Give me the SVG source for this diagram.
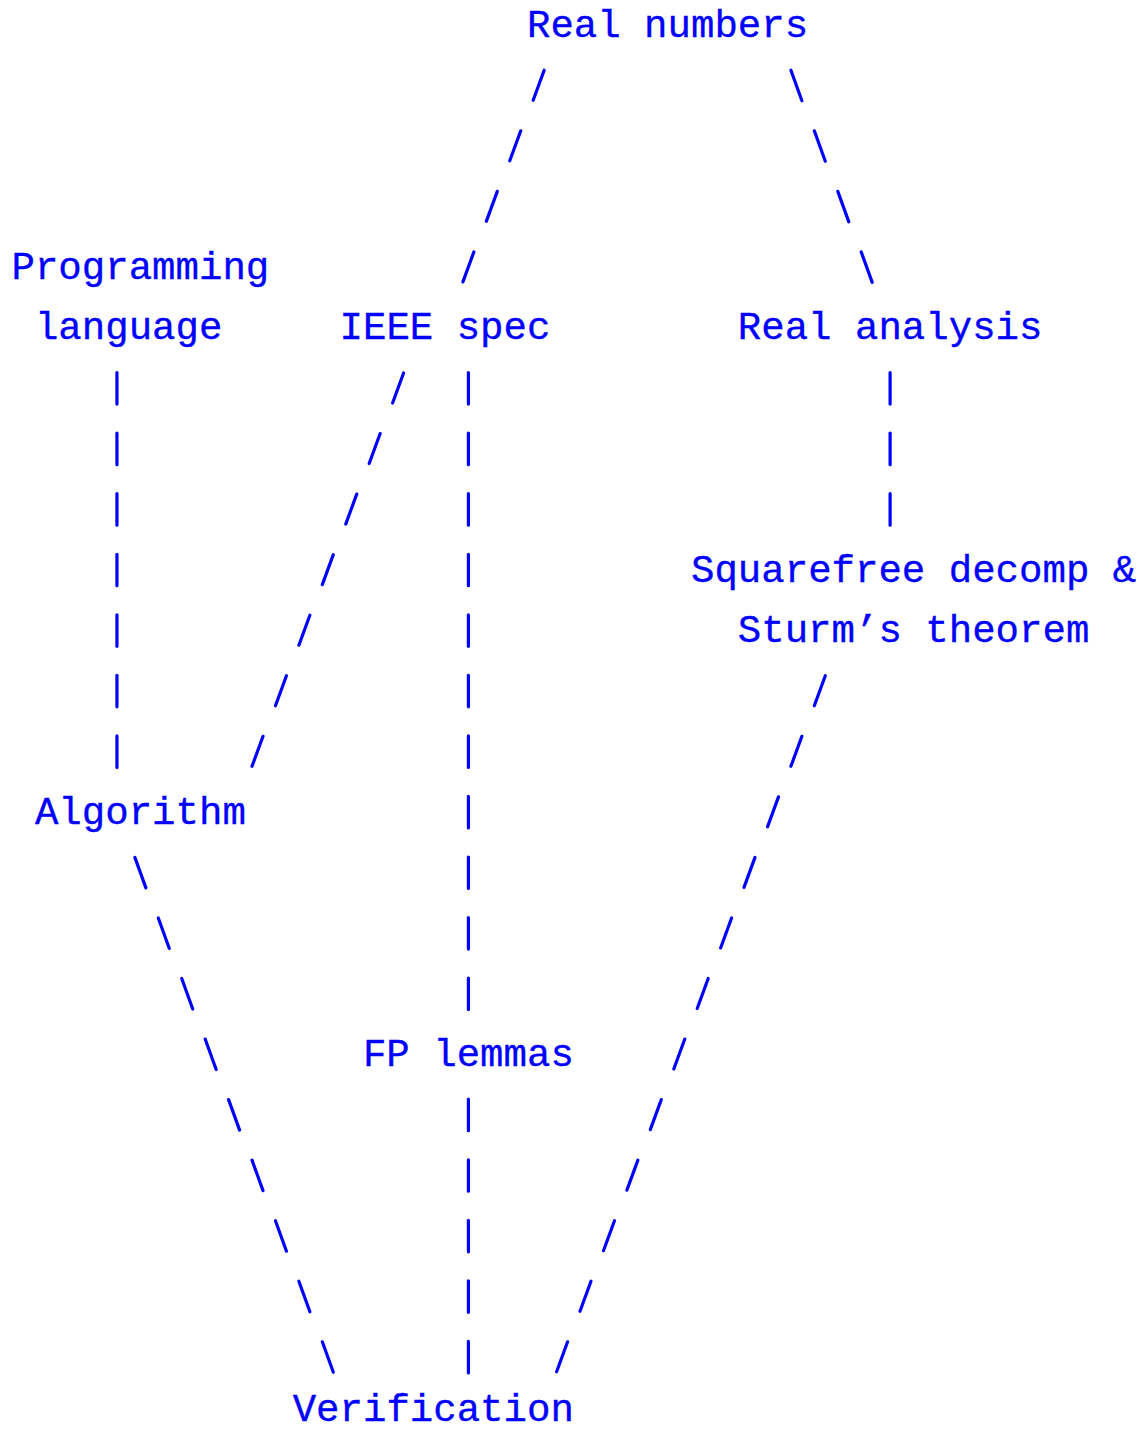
<svg xmlns="http://www.w3.org/2000/svg" xmlns:xlink="http://www.w3.org/1999/xlink" width="1146" height="1433" viewBox="0 0 1146 1433">
<style>
.lbl{font-family:"Liberation Mono","DejaVu Sans Mono",monospace;font-size:39.05px;fill:#0000ff;stroke:#0000ff;stroke-width:0.35px;white-space:pre}
.conn{stroke:#0000ff;stroke-width:3.2;stroke-linecap:round;fill:none}
</style>
<defs>
<path id="fs" class="conn" d="M-5.5,3 L5.5,-27"/>
<path id="bs" class="conn" d="M-5.5,-27 L5.5,3.5"/>
<path id="vb" class="conn" d="M0,-27.4 L0,4.1"/>
</defs>
<rect width="1146" height="1433" fill="#ffffff"/>
<g id="connectors">
<use href="#fs" x="538.68" y="97.25"/>
<use href="#fs" x="515.25" y="157.8"/>
<use href="#fs" x="491.8" y="218.35"/>
<use href="#fs" x="468.4" y="278.9"/>
<use href="#bs" x="796.4" y="97.25"/>
<use href="#bs" x="819.8" y="157.8"/>
<use href="#bs" x="843.3" y="218.35"/>
<use href="#bs" x="866.7" y="278.9"/>
<use href="#vb" x="116.94" y="400"/>
<use href="#vb" x="116.94" y="460.55"/>
<use href="#vb" x="116.94" y="521.1"/>
<use href="#vb" x="116.94" y="581.65"/>
<use href="#vb" x="116.94" y="642.2"/>
<use href="#vb" x="116.94" y="702.75"/>
<use href="#vb" x="116.94" y="763.3"/>
<use href="#fs" x="398.1" y="400"/>
<use href="#fs" x="374.67" y="460.55"/>
<use href="#fs" x="351.24" y="521.1"/>
<use href="#fs" x="327.81" y="581.65"/>
<use href="#fs" x="304.38" y="642.2"/>
<use href="#fs" x="280.95" y="702.75"/>
<use href="#fs" x="257.52" y="763.3"/>
<use href="#vb" x="468.4" y="400"/>
<use href="#vb" x="468.4" y="460.55"/>
<use href="#vb" x="468.4" y="521.1"/>
<use href="#vb" x="468.4" y="581.65"/>
<use href="#vb" x="468.4" y="642.2"/>
<use href="#vb" x="468.4" y="702.75"/>
<use href="#vb" x="468.4" y="763.3"/>
<use href="#vb" x="468.4" y="823.85"/>
<use href="#vb" x="468.4" y="884.4"/>
<use href="#vb" x="468.4" y="944.95"/>
<use href="#vb" x="468.4" y="1005.5"/>
<use href="#vb" x="468.4" y="1126.6"/>
<use href="#vb" x="468.4" y="1187.15"/>
<use href="#vb" x="468.4" y="1247.7"/>
<use href="#vb" x="468.4" y="1308.25"/>
<use href="#vb" x="468.4" y="1368.8"/>
<use href="#vb" x="890.1" y="400"/>
<use href="#vb" x="890.1" y="460.55"/>
<use href="#vb" x="890.1" y="521.1"/>
<use href="#fs" x="819.8" y="702.75"/>
<use href="#fs" x="796.4" y="763.3"/>
<use href="#fs" x="773.0" y="823.85"/>
<use href="#fs" x="749.5" y="884.4"/>
<use href="#fs" x="726.1" y="944.95"/>
<use href="#fs" x="702.7" y="1005.5"/>
<use href="#fs" x="679.3" y="1066.05"/>
<use href="#fs" x="655.8" y="1126.6"/>
<use href="#fs" x="632.4" y="1187.15"/>
<use href="#fs" x="608.97" y="1247.7"/>
<use href="#fs" x="585.5" y="1308.25"/>
<use href="#fs" x="562.1" y="1368.8"/>
<use href="#bs" x="140.37" y="884.4"/>
<use href="#bs" x="163.8" y="944.95"/>
<use href="#bs" x="187.23" y="1005.5"/>
<use href="#bs" x="210.66" y="1066.05"/>
<use href="#bs" x="234.09" y="1126.6"/>
<use href="#bs" x="257.52" y="1187.15"/>
<use href="#bs" x="280.95" y="1247.7"/>
<use href="#bs" x="304.38" y="1308.25"/>
<use href="#bs" x="327.81" y="1368.8"/>
</g>
<g id="real-numbers"><text class="lbl" x="526.96" y="36.7">Real numbers</text></g>
<g id="programming-language"><text class="lbl" x="11.5" y="278.9">Programming</text><text class="lbl" x="34.93" y="339.45">language</text></g>
<g id="ieee-spec"><text class="lbl" x="339.52" y="339.45">IEEE spec</text></g>
<g id="real-analysis"><text class="lbl" x="737.83" y="339.45">Real analysis</text></g>
<g id="squarefree-sturm"><text class="lbl" x="690.97" y="581.65">Squarefree decomp &amp;</text><text class="lbl" x="737.83" y="642.2">Sturm’s theorem</text></g>
<g id="algorithm"><text class="lbl" x="34.93" y="823.85">Algorithm</text></g>
<g id="fp-lemmas"><text class="lbl" x="362.95" y="1066.05">FP lemmas</text></g>
<g id="verification"><text class="lbl" x="292.66" y="1421">Verification</text></g>
</svg>
